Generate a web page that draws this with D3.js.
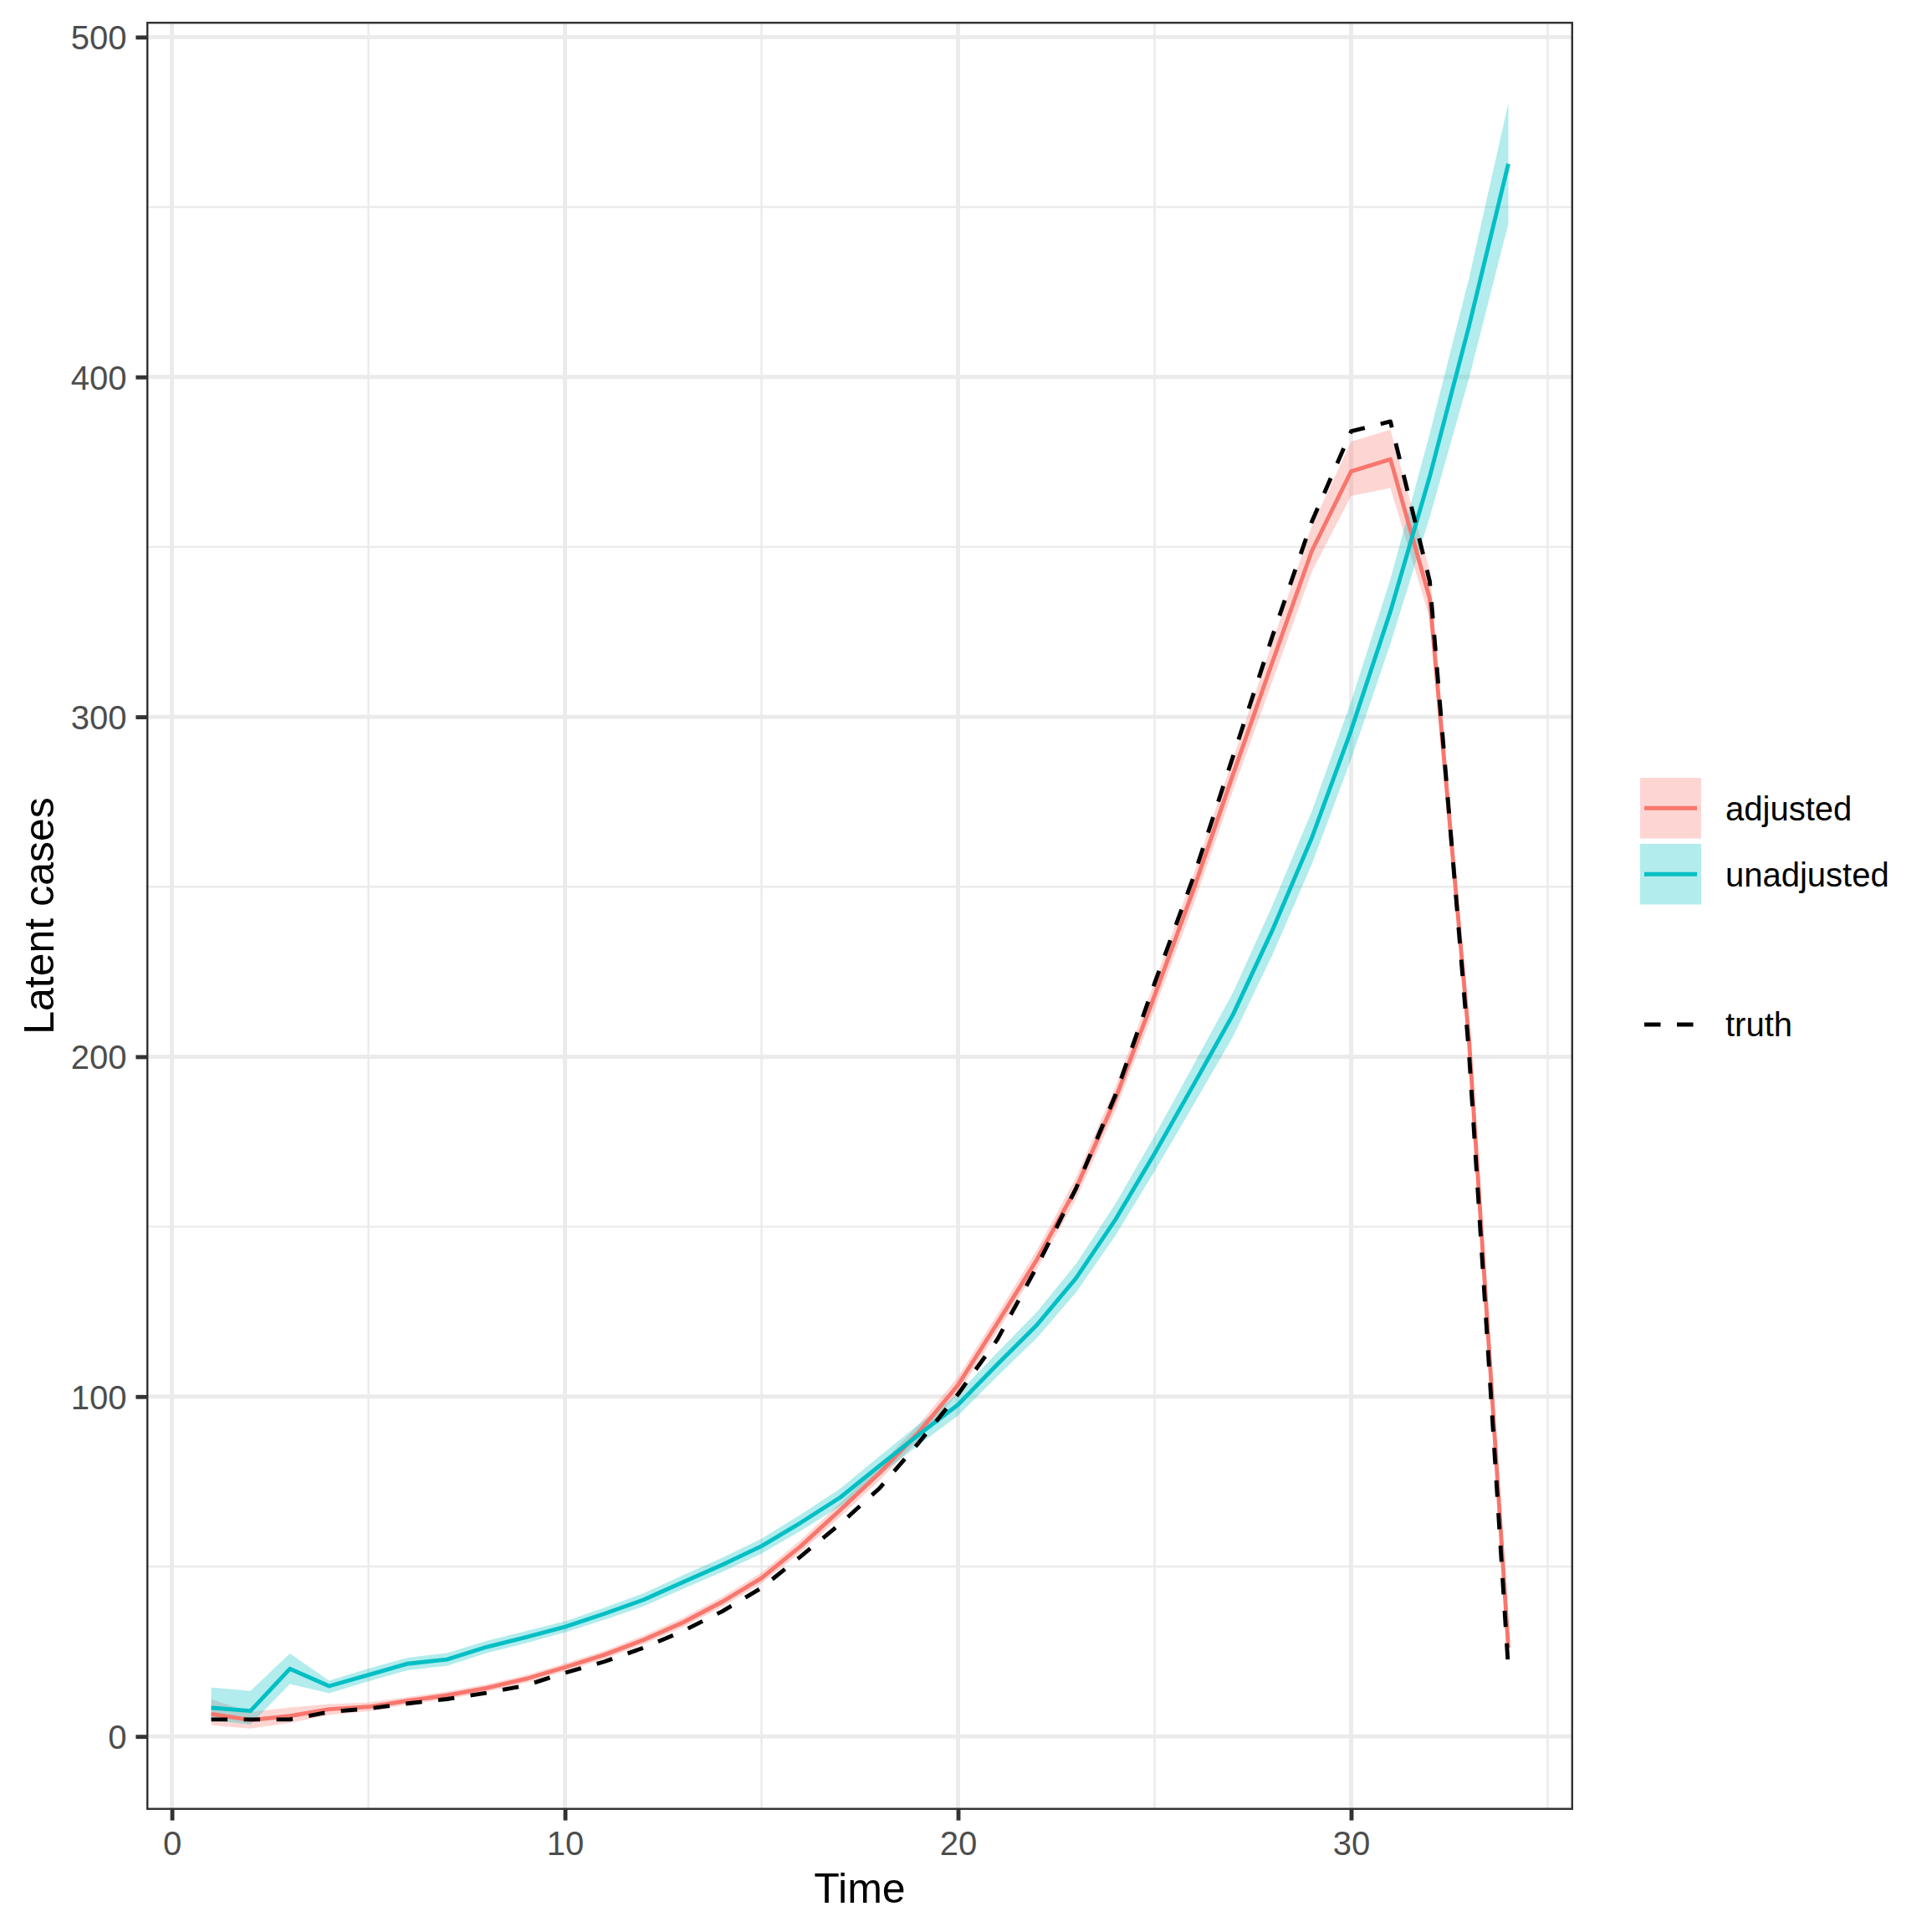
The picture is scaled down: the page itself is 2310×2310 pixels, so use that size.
<!DOCTYPE html>
<html>
<head>
<meta charset="utf-8">
<script src="https://cdn.jsdelivr.net/npm/d3@7"></script>
<style>
  html, body { margin: 0; padding: 0; background: #ffffff; }
  svg { display: block; }
</style>
</head>
<body>
<svg id="chart" width="2310" height="2310"></svg>
<script>
// ---------------- data ----------------
const time = [1,2,3,4,5,6,7,8,9,10,11,12,13,14,15,16,17,18,19,20,21,22,23,24,25,26,27,28,29,30,31,32,33,34];

const truth = [5.0,5.0,5.0,7.2,8.2,9.7,11.0,12.8,15.0,18.7,22.0,26.1,31.0,36.8,43.7,53.0,62.5,73.0,86.4,100.7,
               116.8,138.1,161.2,188.6,221.6,253.2,288.5,323.8,357.4,384.0,386.9,339.9,201.0,20.0];

const adjMed = [6.6,4.8,6.0,8.0,8.7,10.5,12.1,14.2,16.9,20.35,24.0,28.4,33.5,39.6,46.6,56.0,66.6,77.5,89.5,103.4,
                121.6,140.2,161.2,187.5,218.0,249.5,283.2,316.2,348.8,372.2,375.8,334.8,205.0,26.1];
const adjLow = [3.3,2.3,4.0,6.3,7.4,9.4,11.0,13.1,15.8,19.2,22.8,27.1,32.1,38.1,45.0,54.2,64.6,75.3,87.3,101.0,
                119.0,137.4,158.0,184.0,214.0,245.0,278.5,310.5,342.7,365.0,367.3,329.0,200.5,24.0];
const adjHigh = [10.9,7.2,8.5,9.5,10.0,11.6,13.2,15.3,18.0,21.5,25.2,29.7,34.9,41.1,48.2,57.8,68.6,79.7,91.7,105.8,
                 124.2,143.0,164.4,191.0,222.0,254.0,288.0,322.0,356.2,381.0,384.5,343.0,209.5,28.5];

const unaMed = [8.45,7.5,19.9,14.8,18.1,21.4,22.65,26.3,29.2,32.25,36.1,40.2,45.4,50.5,56.0,62.9,70.3,79.6,88.8,97.6,
                109.5,121.0,134.8,152.0,171.5,191.9,212.5,237.3,264.4,296.0,331.0,370.7,415.0,462.7];
const unaLow = [4.8,3.5,15.4,12.7,16.2,19.5,20.8,24.5,27.4,30.6,34.3,38.3,43.4,48.4,53.8,60.5,67.7,76.8,85.8,94.4,
                106.0,117.2,130.6,147.3,166.3,186.0,206.0,230.0,256.6,287.5,321.5,358.8,399.6,445.1];
const unaHigh = [14.4,13.4,24.4,16.4,20.0,23.2,24.5,28.1,31.0,33.9,37.9,42.1,47.4,52.6,58.2,65.3,72.9,82.4,91.8,100.8,
                 113.0,124.8,139.0,156.7,176.7,197.8,219.0,244.6,272.2,304.5,340.5,383.3,429.1,480.6];

const seriesNames = ["adjusted", "unadjusted"];
const truthName = "truth";
const xTicks = [0, 10, 20, 30];
const yTicks = [0, 100, 200, 300, 400, 500];
const xMinor = [5, 15, 25, 35];
const yMinor = [50, 150, 250, 350, 450];
const xTitle = "Time";
const yTitle = "Latent cases";

// ---------------- layout / style ----------------
const P = { left: 175, top: 26, right: 1881, bottom: 2164 };
const colors = { adjusted: "#F8766D", unadjusted: "#00BFC4" };
const fillAlpha = 0.3;
const LW = 4.89;       // ggplot linewidth 0.5 at 330 dpi
const font = "'Liberation Sans', Arial, Helvetica, sans-serif";

const svg = d3.select("#chart");
svg.append("rect").attr("width", 2310).attr("height", 2310).attr("fill", "#ffffff");

// scales with ggplot-like 5% expansion
function expand(lo, hi) { const d = hi - lo; return [lo - 0.05 * d, hi + 0.05 * d]; }
const allY = [].concat(truth, adjLow, adjHigh, unaLow, unaHigh, adjMed, unaMed);
const x = d3.scaleLinear().domain(expand(d3.min(time), d3.max(time))).range([P.left, P.right]);
const y = d3.scaleLinear().domain(expand(d3.min(allY), d3.max(allY))).range([P.bottom, P.top]);

// clip
svg.append("defs").append("clipPath").attr("id", "panel-clip")
  .append("rect").attr("x", P.left).attr("y", P.top)
  .attr("width", P.right - P.left).attr("height", P.bottom - P.top);

const panel = svg.append("g").attr("clip-path", "url(#panel-clip)");

// grid
const grid = panel.append("g");
grid.selectAll(".xminor").data(xMinor).join("line")
  .attr("x1", d => x(d)).attr("x2", d => x(d)).attr("y1", P.top).attr("y2", P.bottom)
  .attr("stroke", "#EBEBEB").attr("stroke-width", LW / 2);
grid.selectAll(".yminor").data(yMinor).join("line")
  .attr("y1", d => y(d)).attr("y2", d => y(d)).attr("x1", P.left).attr("x2", P.right)
  .attr("stroke", "#EBEBEB").attr("stroke-width", LW / 2);
grid.selectAll(".xmajor").data(xTicks).join("line")
  .attr("x1", d => x(d)).attr("x2", d => x(d)).attr("y1", P.top).attr("y2", P.bottom)
  .attr("stroke", "#EBEBEB").attr("stroke-width", LW);
grid.selectAll(".ymajor").data(yTicks).join("line")
  .attr("y1", d => y(d)).attr("y2", d => y(d)).attr("x1", P.left).attr("x2", P.right)
  .attr("stroke", "#EBEBEB").attr("stroke-width", LW);

// build series
const series = [
  { name: "adjusted", med: adjMed, low: adjLow, high: adjHigh },
  { name: "unadjusted", med: unaMed, low: unaLow, high: unaHigh }
];

const area = d3.area().x(d => x(d.t)).y0(d => y(d.lo)).y1(d => y(d.hi));
const line = d3.line().x(d => x(d.t)).y(d => y(d.v));

series.forEach(s => {
  const pts = time.map((t, i) => ({ t, lo: s.low[i], hi: s.high[i] }));
  panel.append("path").attr("d", area(pts))
    .attr("fill", colors[s.name]).attr("fill-opacity", fillAlpha).attr("stroke", "none");
});
series.forEach(s => {
  const pts = time.map((t, i) => ({ t, v: s.med[i] }));
  panel.append("path").attr("d", line(pts))
    .attr("fill", "none").attr("stroke", colors[s.name]).attr("stroke-width", LW)
    .attr("stroke-linejoin", "round");
});
panel.append("path").attr("d", line(time.map((t, i) => ({ t, v: truth[i] }))))
  .attr("fill", "none").attr("stroke", "#000000").attr("stroke-width", LW)
  .attr("stroke-dasharray", "19.5,19.5").attr("stroke-linejoin", "round");

// panel border (inner half visible as in ggplot)
svg.append("rect")
  .attr("x", P.left + LW / 4).attr("y", P.top + LW / 4)
  .attr("width", P.right - P.left - LW / 2).attr("height", P.bottom - P.top - LW / 2)
  .attr("fill", "none").attr("stroke", "#333333").attr("stroke-width", LW / 2);

// axes
function styleAxis(g) {
  g.select(".domain").remove();
  g.selectAll(".tick line").attr("stroke", "#333333").attr("stroke-width", LW);
  g.selectAll(".tick text").attr("fill", "#4D4D4D").attr("font-size", 40).attr("font-family", font);
}
const xAxis = svg.append("g").attr("transform", `translate(0,${P.bottom})`)
  .call(d3.axisBottom(x).tickValues(xTicks).tickSize(12.6).tickPadding(13).tickFormat(d3.format("d")));
styleAxis(xAxis);
const yAxis = svg.append("g").attr("transform", `translate(${P.left},0)`)
  .call(d3.axisLeft(y).tickValues(yTicks).tickSize(12.6).tickPadding(11).tickFormat(d3.format("d")));
styleAxis(yAxis);
yAxis.selectAll(".tick text").attr("dy", "0.36em");

// axis titles
svg.append("text").attr("x", (P.left + P.right) / 2).attr("y", 2275)
  .attr("text-anchor", "middle").attr("font-size", 50).attr("font-family", font)
  .attr("fill", "#000000").text(xTitle);
svg.append("text").attr("transform", `translate(64,${(P.top + P.bottom) / 2}) rotate(-90)`)
  .attr("text-anchor", "middle").attr("font-size", 50).attr("font-family", font)
  .attr("fill", "#000000").text(yTitle);

// legend
const keyX = 1961, keyW = 73, keyH = 72.5;
const keyYs = [930, 1009];
const leg = svg.append("g");
seriesNames.forEach((name, i) => {
  const ky = keyYs[i];
  leg.append("rect").attr("x", keyX).attr("y", ky).attr("width", keyW).attr("height", keyH)
    .attr("fill", colors[name]).attr("fill-opacity", fillAlpha);
  leg.append("line").attr("x1", keyX + 5).attr("x2", keyX + keyW - 5)
    .attr("y1", ky + keyH / 2).attr("y2", ky + keyH / 2)
    .attr("stroke", colors[name]).attr("stroke-width", LW);
  leg.append("text").attr("x", 2063).attr("y", ky + keyH / 2 + 14.3)
    .attr("font-size", 40).attr("font-family", font).attr("fill", "#000000").text(name);
});
const truthY = 1225;
leg.append("line").attr("x1", keyX + 5).attr("x2", keyX + keyW - 5)
  .attr("y1", truthY).attr("y2", truthY)
  .attr("stroke", "#000000").attr("stroke-width", LW).attr("stroke-dasharray", "19.5,19.5");
leg.append("text").attr("x", 2063).attr("y", truthY + 14.3)
  .attr("font-size", 40).attr("font-family", font).attr("fill", "#000000").text(truthName);
</script>
</body>
</html>
